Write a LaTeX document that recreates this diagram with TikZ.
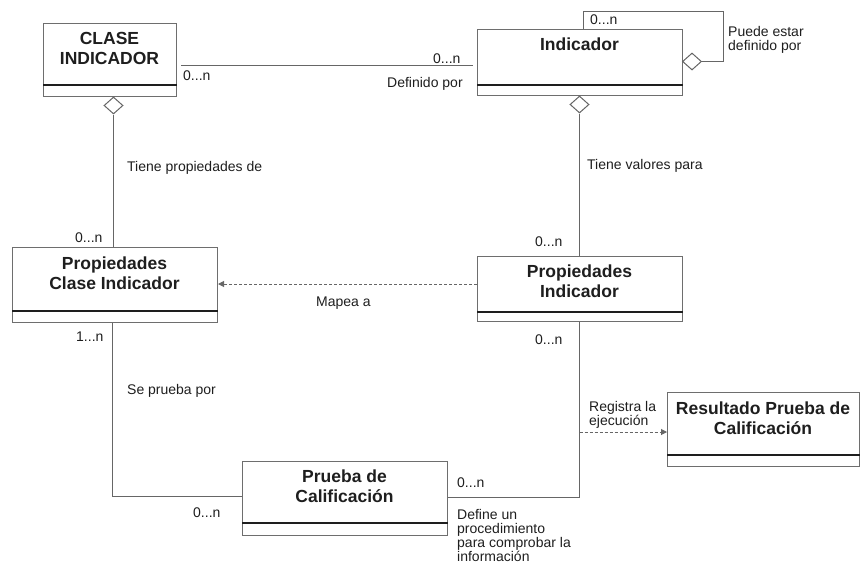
\documentclass[tikz,border=0pt]{standalone}
\usepackage{fontspec}
\setmainfont{Liberation Sans}
\usetikzlibrary{shapes.geometric,arrows.meta,calc}
\definecolor{linegray}{HTML}{666666}
\definecolor{boxgray}{HTML}{6E6E6E}
\definecolor{txt}{HTML}{1E1E1E}
\tikzset{
  umlbox/.style={draw=boxgray, line width=1pt, fill=white, inner sep=0pt, anchor=north west},
  divider/.style={draw=txt, line width=2pt},
  boxtitle/.style={font=\fontsize{17.5}{20}\selectfont\bfseries, text=txt, align=center, inner sep=0pt},
  lbl/.style={font=\fontsize{14}{14.3}\selectfont, text=txt, align=left, inner sep=0pt, anchor=west},
  conn/.style={draw=linegray, line width=1pt},
  dconn/.style={draw=linegray, line width=1pt, dash pattern=on 3pt off 2pt, -{Triangle[length=6pt,width=6pt]}},
  agg/.style={diamond, draw=linegray, fill=white, line width=1pt, inner sep=0pt, minimum width=19pt, minimum height=17pt},
}
\begin{document}
\begin{tikzpicture}[x=1pt,y=-1pt]
\useasboundingbox (0,0) rectangle (861,565);
% boxes
\node[umlbox, minimum width=133pt, minimum height=73pt] (ci) at (43,23) {};
\draw[divider] ($(ci.south west)+(0,-12)$) -- ($(ci.south east)+(0,-12)$);
\node[boxtitle] (cit) at (109.5,48) {CLASE\\INDICADOR};

\node[umlbox, minimum width=205pt, minimum height=66pt] (ind) at (477,29) {};
\draw[divider] ($(ind.south west)+(0,-11)$) -- ($(ind.south east)+(0,-11)$);
\node[boxtitle] (indt) at (579.5,44) {Indicador};

\node[umlbox, minimum width=205pt, minimum height=75pt] (pci) at (12,247) {};
\draw[divider] ($(pci.south west)+(0,-12)$) -- ($(pci.south east)+(0,-12)$);
\node[boxtitle] (pcit) at (114.5,273) {Propiedades\\Clase Indicador};

\node[umlbox, minimum width=205pt, minimum height=65pt] (pi) at (477,256) {};
\draw[divider] ($(pi.south west)+(0,-10)$) -- ($(pi.south east)+(0,-10)$);
\node[boxtitle] (pit) at (579.5,281.5) {Propiedades\\Indicador};

\node[umlbox, minimum width=205pt, minimum height=74pt] (pc) at (242,461) {};
\draw[divider] ($(pc.south west)+(0,-13)$) -- ($(pc.south east)+(0,-13)$);
\node[boxtitle] (pct) at (344.5,486) {Prueba de\\Calificación};

\node[umlbox, minimum width=192pt, minimum height=74pt] (rp) at (667,392) {};
\draw[divider] ($(rp.south west)+(0,-12)$) -- ($(rp.south east)+(0,-12)$);
\node[boxtitle] (rpt) at (763,418) {Resultado Prueba de\\Calificación};

% aggregation diamonds
\node[agg, anchor=north] (d1) at (113.5,96.5) {};
\node[agg, anchor=north] (d2) at (579.5,95.5) {};
\node[agg, anchor=west] (d3) at (682,61.5) {};

% connectors
\draw[conn, shorten <=4pt, shorten >=4pt] (ci.east |- 0,65) -- (ind.west |- 0,65);
\draw[conn] (d1.south) -- (d1.south |- pci.north);
\draw[conn] (d2.south) -- (d2.south |- pi.north);
\coordinate (l1) at (723,61.5);
\coordinate (l2) at (723,11);
\coordinate (l3) at (583,11);
\draw[conn] (d3.east) -- (l1) -- (l2) -- (l3) -- (l3 |- ind.north);
\draw[dconn] (pi.west |- 0,284) -- (pci.east |- 0,284);
\coordinate (b1) at (112,496.5);
\draw[conn] (pci.south -| b1) -- (b1) -- (pc.west |- b1);
\coordinate (b2) at (579.5,497);
\draw[conn] (pi.south -| b2) -- (b2) -- (pc.east |- b2);
\draw[dconn] (579.5,432) -- (rp.west |- 0,432);

% labels
\node[lbl] (m1) at (433,59) {0...n};
\node[lbl] (m2) at (183,76) {0...n};
\node[lbl] (t1) at (387,84) {Definido por};
\node[lbl] (m3) at (590,20) {0...n};
\node[lbl] (t2) at (728,40) {Puede estar\\definido por};
\node[lbl] (t3) at (127,168) {Tiene propiedades de};
\node[lbl] (t4) at (587,166) {Tiene valores para};
\node[lbl] (m4) at (75,238) {0...n};
\node[lbl] (m5) at (535,242) {0...n};
\node[lbl] (t5) at (316,303) {Mapea a};
\node[lbl] (m6) at (76,337) {1...n};
\node[lbl] (m7) at (535,340) {0...n};
\node[lbl] (t6) at (127,391) {Se prueba por};
\node[lbl] (t7) at (589,415) {Registra la\\ejecución};
\node[lbl] (m8) at (193,513) {0...n};
\node[lbl] (m9) at (457,483) {0...n};
\node[lbl] (t8) at (457,535.5) {Define un\\procedimiento\\para comprobar la\\información};
\end{tikzpicture}
\end{document}
